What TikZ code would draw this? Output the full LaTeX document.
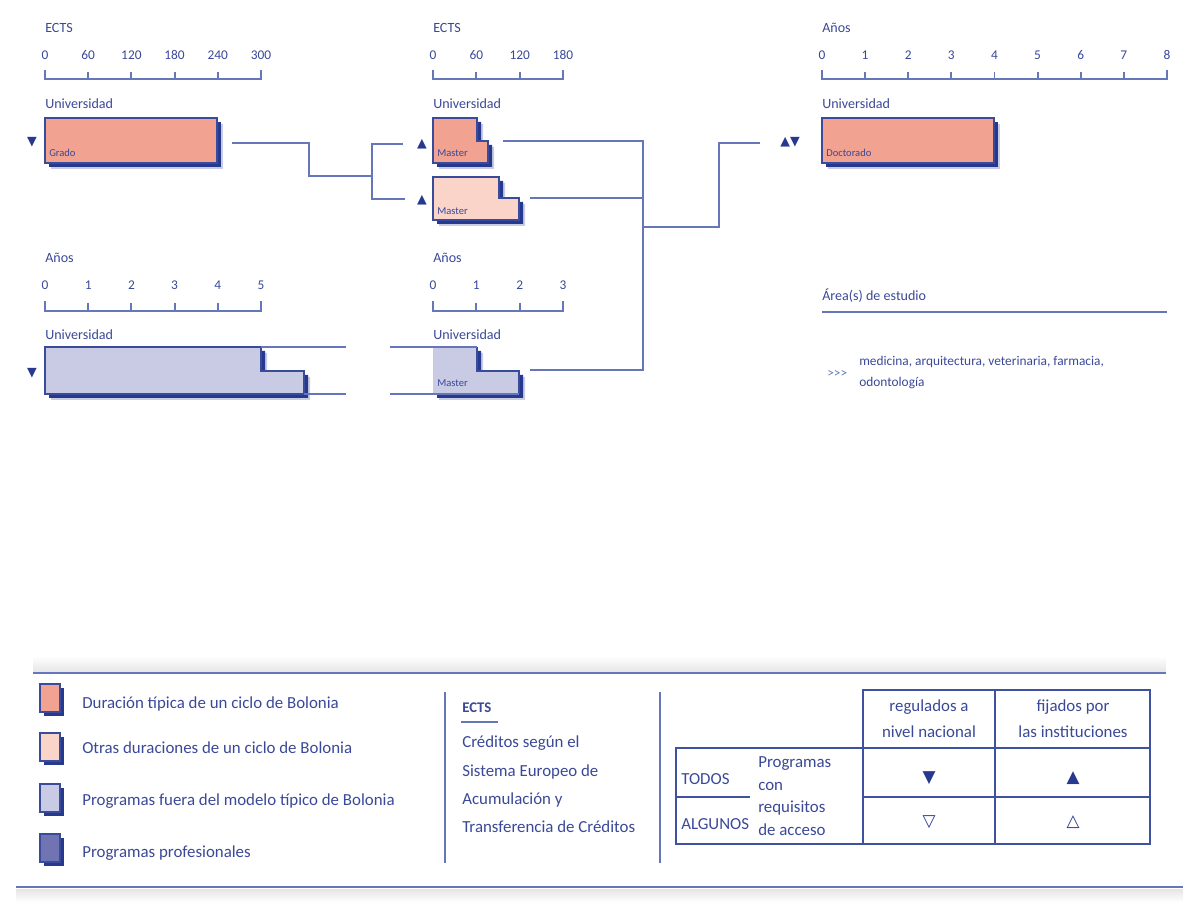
\documentclass[tikz,border=0pt]{standalone}
\usepackage{fontspec}
\setmainfont{Carlito}
\newfontfamily\symfont{DejaVu Sans}
\usetikzlibrary{positioning}
\definecolor{ink}{HTML}{3A4898}
\definecolor{rule}{HTML}{6577BA}
\definecolor{deep}{HTML}{26398F}
\definecolor{salmon}{HTML}{F2A290}
\definecolor{peach}{HTML}{FAD4C9}
\definecolor{lilac}{HTML}{C9CBE5}
\definecolor{prof}{HTML}{7174B2}

\begin{document}
\begin{tikzpicture}[x=0.025cm,y=-0.025cm,
  every node/.style={text=ink,inner sep=0pt},
  lbl/.style={font=\fontsize{10}{12}\selectfont,anchor=west},
  tick/.style={font=\fontsize{9.5}{11}\selectfont},
  inbox/.style={font=\fontsize{7.5}{9}\selectfont,anchor=base west},
  leg/.style={font=\fontsize{12}{14}\selectfont,anchor=base west},
  ax/.style={draw=rule,line width=1.3pt},
  link/.style={draw=rule,line width=1.4pt},
  edge/.style={draw=deep!70!rule,line width=0.9pt},
  tab/.style={draw=deep!60!rule,line width=1.1pt},
  sh/.style={fill=deep,shift={(4,4)}},
  halo/.style={fill=deep!25,shift={(6,6)}},
  tri/.style={font=\symfont\fontsize{9}{9}\selectfont,text=deep},
 ]
 \useasboundingbox (0,0) rectangle (1193,905);

 % scales
 \node[lbl] (ects-a) at (45,28) {ECTS};
 \draw[ax] (45,70) -- (45,79) -| (261,70);
 \foreach \v [count=\i from 0] in {0,60,120,180,240,300}
   {\draw[ax] ({45+43.2*\i},72) -- ++(0,7);
    \node[tick] (ea-\i) at ({45+43.2*\i},55) {\v};}
 \node[lbl] (ects-b) at (433,28) {ECTS};
 \draw[ax] (433,70) -- (433,79) -| (563,70);
 \foreach \v [count=\i from 0] in {0,60,120,180}
   {\draw[ax] ({433+43.33*\i},72) -- ++(0,7);
    \node[tick] (eb-\i) at ({433+43.33*\i},55) {\v};}
 \node[lbl] (anos-c) at (822,28) {Años};
 \draw[ax] (822,70) -- (822,79) -| (1167,70);
 \foreach \v in {0,...,8}
   {\draw[ax] ({822+43.125*\v},72) -- ++(0,7);
    \node[tick] (ac-\v) at ({822+43.125*\v},55) {\v};}
 \node[lbl] (anos-a) at (45,258) {Años};
 \draw[ax] (45,301) -- (45,311) -| (261,301);
 \foreach \v in {0,...,5}
   {\draw[ax] ({45+43.2*\v},303) -- ++(0,8);
    \node[tick] (aa-\v) at ({45+43.2*\v},285) {\v};}
 \node[lbl] (anos-b) at (433,258) {Años};
 \draw[ax] (433,301) -- (433,311) -| (563,301);
 \foreach \v in {0,...,3}
   {\draw[ax] ({433+43.33*\v},303) -- ++(0,8);
    \node[tick] (ab-\v) at ({433+43.33*\v},285) {\v};}

 \node[lbl] (uni-a) at (45,104) {Universidad};
 \node[lbl] (uni-b) at (433,104) {Universidad};
 \node[lbl] (uni-c) at (822,104) {Universidad};
 \node[lbl] (uni-d) at (45,335) {Universidad};
 \node[lbl] (uni-e) at (433,335) {Universidad};

 % Grado
 \fill[halo] (45,118) rectangle (217,163);
 \fill[sh] (45,118) rectangle (217,163);
 \filldraw[edge,fill=salmon] (45,118) rectangle (217,163);
 \node[inbox] (grado) at (49,157) {Grado};
 \node[tri] (t-grado) at (32,142) {▼};

 % Master
 \fill[halo] (433,118) -- (477,118) -- (477,141) -- (488,141) -- (488,163) -- (433,163) -- cycle;
 \fill[sh] (433,118) -- (477,118) -- (477,141) -- (488,141) -- (488,163) -- (433,163) -- cycle;
 \filldraw[edge,fill=salmon] (433,118) -- (477,118) -- (477,141) -- (488,141) -- (488,163) -- (433,163) -- cycle;
 \node[inbox] (master-a) at (437,157) {Master};
 \node[tri] (t-ma) at (422,144) {▲};
 \fill[halo] (433,177) -- (499,177) -- (499,198) -- (519,198) -- (519,220) -- (433,220) -- cycle;
 \fill[sh] (433,177) -- (499,177) -- (499,198) -- (519,198) -- (519,220) -- (433,220) -- cycle;
 \filldraw[edge,fill=peach] (433,177) -- (499,177) -- (499,198) -- (519,198) -- (519,220) -- (433,220) -- cycle;
 \node[inbox] (master-b) at (437,215) {Master};
 \node[tri] (t-mb) at (422,200) {▲};

 % Doctorado
 \fill[halo] (822,118) rectangle (994,163);
 \fill[sh] (822,118) rectangle (994,163);
 \filldraw[edge,fill=salmon] (822,118) rectangle (994,163);
 \node[inbox] (doctorado) at (826,157) {Doctorado};
 \node[tri] (t-doc) at (790,142) {▲▼};

 % programas fuera del modelo
 \fill[halo] (45,347) -- (261,347) -- (261,371) -- (304,371) -- (304,394) -- (45,394) -- cycle;
 \fill[sh] (45,347) -- (261,347) -- (261,371) -- (304,371) -- (304,394) -- (45,394) -- cycle;
 \filldraw[edge,fill=lilac] (45,347) -- (261,347) -- (261,371) -- (304,371) -- (304,394) -- (45,394) -- cycle;
 \node[tri] (t-fuera) at (32,373) {▼};
 \fill[halo] (433,347) -- (477,347) -- (477,371) -- (519,371) -- (519,394) -- (433,394) -- cycle;
 \fill[sh] (433,347) -- (477,347) -- (477,371) -- (519,371) -- (519,394) -- (433,394) -- cycle;
 \fill[lilac] (433,347) -- (477,347) -- (477,371) -- (519,371) -- (519,394) -- (433,394) -- cycle;
 \draw[edge] (477,347) -- (477,371) -- (519,371) -- (519,394);
 \node[inbox] (master-c) at (437,387) {Master};
 \draw[link] (261,347) -- (346,347);
 \draw[link] (304,394) -- (346,394);
 \draw[link] (390,347) -- (477,347);
 \draw[link] (390,394) -- (519,394);

 % connectors
 \coordinate (g-out) at (232,143);
 \coordinate (fork-a) at (372,176);
 \coordinate (ma-in) at (403,144);
 \coordinate (mb-in) at (405,199);
 \coordinate (ma-out) at (503,141);
 \coordinate (mb-out) at (530,198);
 \coordinate (mc-out) at (530,370);
 \coordinate (fork-b) at (643,227);
 \coordinate (d-in) at (760,143);
 \draw[link] (g-out) -- (309,143) |- (fork-a);
 \draw[link] (ma-in) -| (372,199) -- (mb-in);
 \draw[link] (ma-out) -| (643,370) -- (mc-out);
 \draw[link] (mb-out) -- (643,198);
 \draw[link] (fork-b) -- (719,227) |- (d-in);

 % areas
 \node[lbl] (area) at (822,296) {Área(s) de estudio};
 \draw[ax] (822,312) -- (1167,312);
 \node[tick,anchor=base west,text=rule] (more) at (827,378) {{>}{>}{>}};
 \node[lbl,anchor=north west,align=left,font=\fontsize{9.5}{15}\selectfont] (campos) at (859,356)
   {medicina, arquitectura, veterinaria, farmacia,\\odontología};

 % legend
 \shade[top color=white,bottom color=black!10] (33,656) rectangle (1166,672);
 \draw[rule,line width=2pt] (33,673) -- (1166,673);
 \shade[top color=black!10,bottom color=white] (16,889) rectangle (1183,902);
 \draw[rule,line width=2pt] (16,887) -- (1183,887);
 \foreach \c/\y/\b/\t [count=\i] in {salmon/684/709/{Duración típica de un ciclo de Bolonia},
     peach/733/754/{Otras duraciones de un ciclo de Bolonia},
     lilac/784/806/{Programas fuera del modelo típico de Bolonia},
     prof/834/857/{Programas profesionales}}
   {\fill[sh] (40,\y) rectangle ++(20,28);
    \filldraw[edge,fill=\c] (40,\y) rectangle ++(20,28);
    \node[leg] (leg-\i) at (82,\b) {\t};}
 \draw[rule,line width=1.5pt] (445,692) -- (445,863);
 \draw[rule,line width=1.5pt] (660,692) -- (660,863);
 \node[leg,font=\bfseries\fontsize{10.5}{12}\selectfont] (ects-key) at (462,712) {ECTS};
 \draw[rule,line width=2pt] (461,722) -- (498,722);
 \node[leg,anchor=north west,align=left,font=\fontsize{12}{20}\selectfont] (ects-txt) at (462,736)
   {Créditos según el\\Sistema Europeo de\\Acumulación y\\Transferencia de Créditos};

 % table
 \draw[tab] (863,690) rectangle (1150,748);
 \draw[tab] (676,748) rectangle (1150,844);
 \draw[tab] (863,748) -- (863,844);
 \draw[tab] (995,690) -- (995,844);
 \draw[tab] (863,797) -- (1150,797);
 \draw[tab] (676,797) -- (750,797);
 \node[align=center,font=\fontsize{12}{18.5}\selectfont] (nac) at (929,719) {regulados a\\nivel nacional};
 \node[align=center,font=\fontsize{12}{18.5}\selectfont] (inst) at (1073,719) {fijados por\\las instituciones};
 \node[leg] (todos) at (681,784) {TODOS};
 \node[leg] (algunos) at (681,829) {ALGUNOS};
 \node[align=left,anchor=west,font=\fontsize{12}{16}\selectfont] (req) at (758,796)
   {Programas\\con\\requisitos\\de acceso};
 \node[tri,font=\symfont\fontsize{12}{12}\selectfont] (t-tn) at (929,778) {▼};
 \node[tri,font=\symfont\fontsize{12}{12}\selectfont] (t-ti) at (1073,778) {▲};
 \node[tri,font=\symfont\fontsize{12}{12}\selectfont] (t-an) at (929,822) {▽};
 \node[tri,font=\symfont\fontsize{12}{12}\selectfont] (t-ai) at (1073,822) {△};
\end{tikzpicture}
\end{document}
